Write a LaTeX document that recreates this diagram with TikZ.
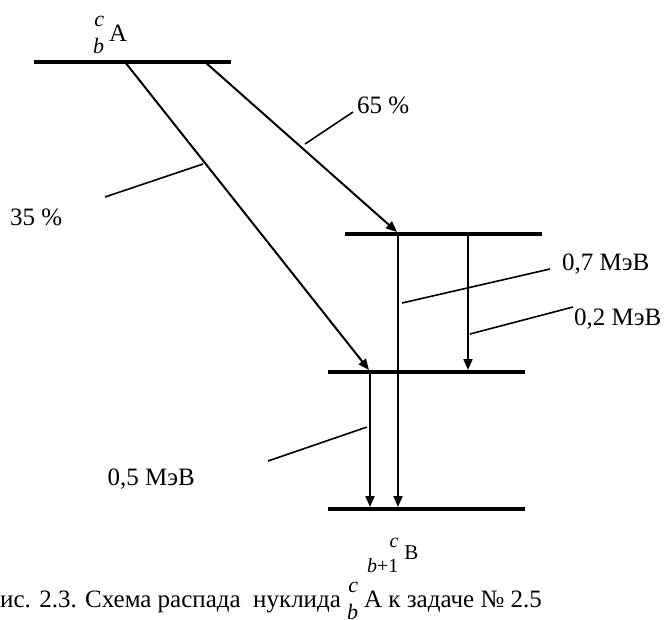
\documentclass[tikz,border=0pt]{standalone}
\usepackage{fontspec}
\setmainfont{Liberation Serif}
\usetikzlibrary{arrows.meta}
% #1 sup, #2 sub, #3 main, #4 raise (pt), #5 lower (pt), #6 script size, #7 kern
\newcommand\isonuc[7]{\hbox{\ooalign{\hfil\raisebox{#4pt}{\fontsize{#6}{#6}\selectfont #1}\cr\hfil\raisebox{-#5pt}{\fontsize{#6}{#6}\selectfont #2}\cr}\kern#7pt\relax #3}}
\tikzset{
  lvl/.style={line width=4pt},
  arr/.style={line width=2pt,-{Triangle[length=11pt,width=9pt]}},
  ldr/.style={line width=1.6pt},
  lbl/.style={inner sep=0pt,font=\fontsize{25}{30}\selectfont},
}
\begin{document}
\begin{tikzpicture}[x=1pt,y=-1pt]
\useasboundingbox (0,0) rectangle (668,619);
% levels
\coordinate (L1a) at (34,62);  \coordinate (L1b) at (231,62);
\coordinate (L2a) at (345,234); \coordinate (L2b) at (542,234);
\coordinate (L3a) at (328,372); \coordinate (L3b) at (525,372);
\coordinate (L4a) at (328,509); \coordinate (L4b) at (525,509);
\draw[lvl] (L1a) -- (L1b);
\draw[lvl] (L2a) -- (L2b);
\draw[lvl] (L3a) -- (L3b);
\draw[lvl] (L4a) -- (L4b);
% transition endpoints
\coordinate (s1) at (125,62);  \coordinate (t1) at (369,370);
\coordinate (s2) at (205,62);  \coordinate (t2) at (397,232);
\coordinate (v1s) at (398,234); \coordinate (v1e) at (398,507);
\coordinate (v2s) at (468,234); \coordinate (v2e) at (468,370);
\coordinate (v3s) at (370,372); \coordinate (v3e) at (370,507);
\draw[arr] (s1) -- (t1);
\draw[arr] (s2) -- (t2);
\draw[arr] (v1s) -- (v1e);
\draw[arr] (v2s) -- (v2e);
\draw[arr] (v3s) -- (v3e);
% leaders
\coordinate (p65a) at (305,144); \coordinate (p65b) at (353,112);
\coordinate (p35a) at (105,197); \coordinate (p35b) at (203,164);
\coordinate (p07a) at (402,303); \coordinate (p07b) at (550,269);
\coordinate (p02a) at (470,334); \coordinate (p02b) at (573,307);
\coordinate (p05a) at (268,461); \coordinate (p05b) at (367,427);
\draw[ldr] (p65a) -- (p65b);
\draw[ldr] (p35a) -- (p35b);
\draw[ldr] (p07a) -- (p07b);
\draw[ldr] (p02a) -- (p02b);
\draw[ldr] (p05a) -- (p05b);
% labels
\node[lbl,anchor=base west] (t65) at (357,113) {65 \%};
\node[lbl,anchor=base west] (t35) at (10,225) {35 \%};
\node[lbl,anchor=base west] (t07) at (562,270) {0,7 МэВ};
\node[lbl,anchor=base west] (t02) at (574,325) {0,2 МэВ};
\node[lbl,anchor=base east] (t05) at (195,485) {0,5 МэВ};
\node[lbl,anchor=base west] (nA) at (93,41) {\isonuc{\textit{c}}{\textit{b}}{A}{15}{12}{22}{5}};
\node[lbl,anchor=base west,font=\fontsize{21}{25}\selectfont] (nB) at (367,559) {\isonuc{\textit{c}}{\textit{b}+1}{B}{12}{13}{20}{6}};
\node[lbl,anchor=base west] (cap) at (0,607) {ис. 2.3. Схема распада\ \ нуклида \isonuc{\textit{c}}{\textit{b}}{A}{15}{12}{22}{6} к задаче № 2.5};
\end{tikzpicture}
\end{document}
